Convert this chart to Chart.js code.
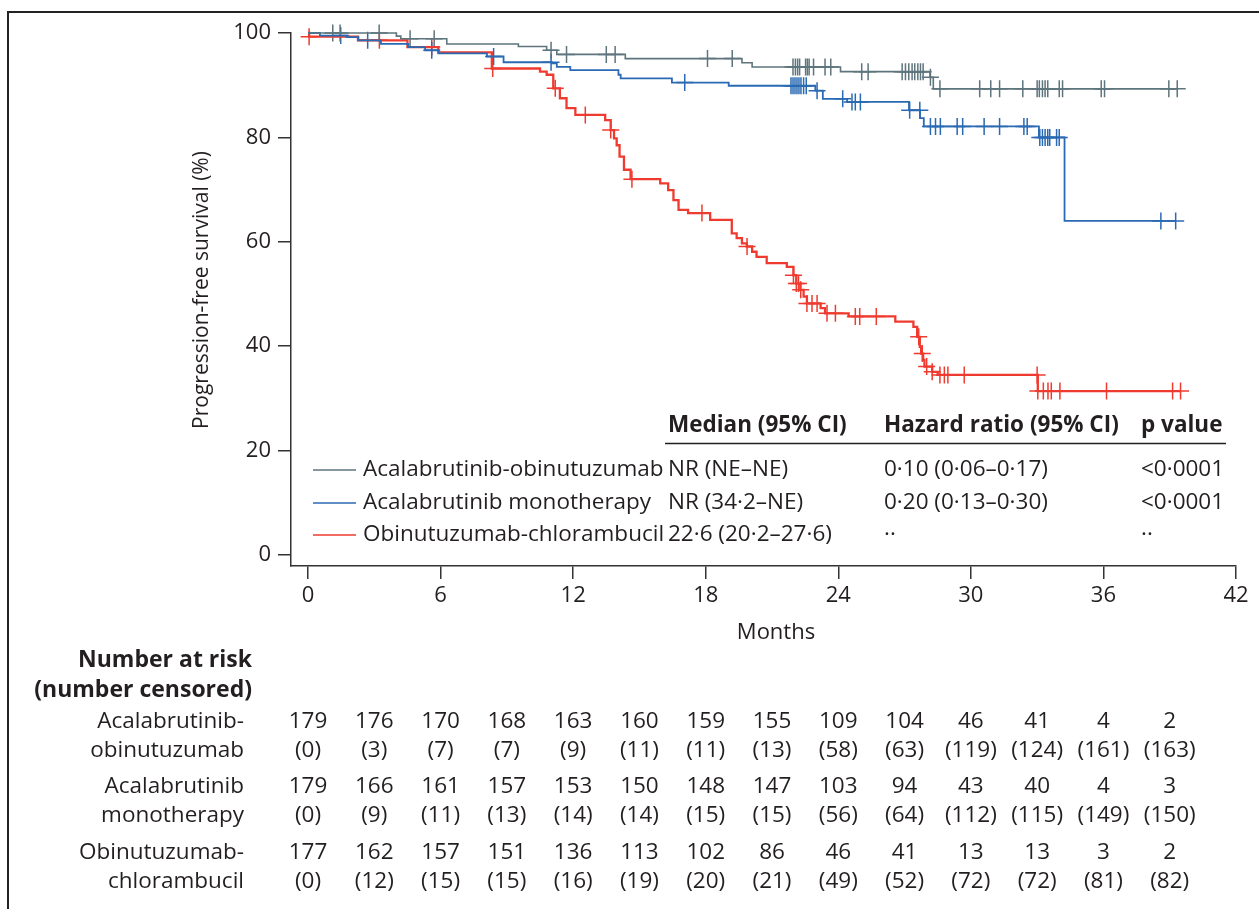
<!DOCTYPE html>
<html>
<head>
<meta charset="utf-8">
<script src="https://cdn.jsdelivr.net/npm/chart.js@4.4.1/dist/chart.umd.min.js"></script>
<style>
html, body { margin: 0; padding: 0; background: #fff; overflow: hidden; }
#wrap { position: relative; width: 1259px; height: 909px; }
#frame { position: absolute; left: 7px; top: 11px; width: 1400px; height: 1000px; border: 2px solid #222; }
#km { position: absolute; left: 0; top: 0; }
</style>
</head>
<body>
<div id="wrap">
  <div id="frame"></div>
  <canvas id="km" width="1259" height="909"></canvas>
</div>
<script>
// groups / table text
const groups = ['Acalabrutinib-obinutuzumab', 'Acalabrutinib monotherapy', 'Obinutuzumab-chlorambucil'];
const riskLabels = [['Acalabrutinib-', 'obinutuzumab'], ['Acalabrutinib', 'monotherapy'], ['Obinutuzumab-', 'chlorambucil']];
const tableHeads = ['Median (95% CI)', 'Hazard ratio (95% CI)', 'p value'];
const medians = ['NR (NE\u2013NE)', 'NR (34\u00b72\u2013NE)', '22\u00b76 (20\u00b72\u201327\u00b76)'];
const hazardRatios = ['0\u00b710 (0\u00b706\u20130\u00b717)', '0\u00b720 (0\u00b713\u20130\u00b730)', '\u00b7\u00b7'];
const pValues = ['<0\u00b70001', '<0\u00b70001', '\u00b7\u00b7'];

const xTicks = [0, 6, 12, 18, 24, 30, 36, 42];
const yTicks = [0, 20, 40, 60, 80, 100];

// number at risk (number censored), every 3 months
const riskTimes = [0, 3, 6, 9, 12, 15, 18, 21, 24, 27, 30, 33, 36, 39];
const atRiskAO = [179, 176, 170, 168, 163, 160, 159, 155, 109, 104, 46, 41, 4, 2];
const censoredAO = [0, 3, 7, 7, 9, 11, 11, 13, 58, 63, 119, 124, 161, 163];
const atRiskAM = [179, 166, 161, 157, 153, 150, 148, 147, 103, 94, 43, 40, 4, 3];
const censoredAM = [0, 9, 11, 13, 14, 14, 15, 15, 56, 64, 112, 115, 149, 150];
const atRiskOC = [177, 162, 157, 151, 136, 113, 102, 86, 46, 41, 13, 13, 3, 2];
const censoredOC = [0, 12, 15, 15, 16, 19, 20, 21, 49, 52, 72, 72, 81, 82];

// Kaplan-Meier steps (month, % progression-free)
const timesAO = [0, 4.0, 4.2, 6.28, 9.52, 10.8, 11.26, 14.36, 19.64, 20.1, 24.1, 28.15, 28.3, 39.34];
const survAO  = [100, 99.4, 98.9, 97.9, 97.4, 96.7, 95.9, 95.1, 94.3, 93.5, 92.6, 91.5, 89.3, 89.3];
const censorAO = [1.12, 1.45, 3.22, 4.62, 5.71, 11.0, 11.7, 13.5, 13.9, 18.08, 19.2, 21.95, 22.06, 22.16, 22.25,
  22.52, 22.6, 22.68, 22.88, 23.4, 23.66, 25.06, 25.35, 26.89, 27.04, 27.19, 27.34, 27.46, 27.6, 27.72, 27.84,
  28.17, 28.6, 30.4, 30.9, 31.3, 32.35, 33.0, 33.1, 33.24, 33.36, 33.48, 34.0, 34.15, 35.9, 36.05, 38.96, 39.34];

const timesAM = [0, 0.54, 1.75, 2.28, 3.3, 4.54, 5.3, 5.9, 8.1, 8.85, 11.04, 11.26, 11.87, 14.05, 14.15, 16.47,
  19.04, 22.96, 23.3, 24.4, 27.2, 27.7, 27.87, 33.08, 34.24, 39.27];
const survAM  = [100, 99.5, 99.2, 98.6, 97.9, 97.3, 96.7, 96.1, 95.5, 94.4, 94.2, 93.5, 92.9, 92.0, 91.3, 90.5,
  89.9, 88.95, 87.4, 86.8, 85.2, 83.7, 82.1, 80.0, 64.0, 64.0];
const censorAM = [1.48, 2.7, 5.6, 8.4, 11.0, 17.05, 21.86, 21.95, 22.04, 22.13, 22.22, 22.31, 22.43, 22.55, 23.04,
  24.2, 24.62, 24.77, 25.0, 27.23, 27.69, 28.17, 28.4, 28.62, 29.38, 29.63, 30.6, 31.3, 32.4, 32.55, 33.12, 33.24,
  33.36, 33.48, 33.57, 33.88, 34.0, 38.6, 39.27];

const timesOC = [0, 0.05, 2.26, 4.5, 5.9, 8.32, 10.5, 10.8, 11.1, 11.4, 11.7, 12.1, 13.45, 13.7, 13.85, 13.97, 14.1,
  14.3, 14.6, 15.94, 16.3, 16.54, 16.77, 17.2, 18.2, 19.18, 19.4, 19.64, 19.86, 20.1, 20.3, 20.76, 21.67, 21.97,
  22.1, 22.28, 22.43, 22.58, 23.2, 23.4, 24.47, 26.58, 27.4, 27.57, 27.69, 27.75, 27.84, 27.9, 28.25, 28.5, 33.03, 39.49];
const survOC  = [100, 99.3, 98.6, 97.3, 96.3, 93.2, 92.6, 92.0, 89.4, 87.5, 85.6, 84.3, 83.3, 81.4, 79.8, 78.5, 76.3,
  73.8, 72.0, 71.2, 69.9, 68.0, 66.1, 65.5, 64.2, 61.6, 60.7, 59.7, 59.1, 58.1, 57.1, 55.9, 55.2, 53.6,
  52.0, 50.8, 49.5, 48.2, 47.3, 46.3, 45.7, 44.7, 43.7, 41.8, 39.9, 38.6, 37.4, 36.1, 35.1, 34.5, 31.4, 31.4];
const censorOC = [0.05, 3.23, 5.6, 8.36, 11.19, 12.55, 13.7, 14.66, 17.83, 19.87, 21.97, 22.1, 22.2, 22.3, 22.58,
  22.81, 23.04, 23.49, 23.87, 24.77, 24.97, 25.72, 27.64, 27.8, 28.0, 28.25, 28.6, 28.8, 28.96, 29.7, 33.0, 33.03,
  33.28, 33.49, 33.64, 34.03, 36.14, 39.13, 39.49];

const colors = ['#5e757d', '#2a6ab3', '#ef3b2f'];
const lineWidths = [1.6, 1.8, 2.3];
const FONT = "'Open Sans', sans-serif";
const INK = '#231f20';

function survAt(times, surv, t) {
  let s = surv[0];
  for (let i = 0; i < times.length; i++) if (times[i] <= t) s = surv[i];
  return s;
}
const curve = (times, surv) => times.map((t, i) => ({x: t, y: surv[i]}));
const marks = (cens, times, surv) => cens.map(t => ({x: t, y: survAt(times, surv, t)}));

const curves = [curve(timesAO, survAO), curve(timesAM, survAM), curve(timesOC, survOC)];
const censors = [marks(censorAO, timesAO, survAO), marks(censorAM, timesAM, survAM), marks(censorOC, timesOC, survOC)];
const riskRows = [[atRiskAO, censoredAO], [atRiskAM, censoredAM], [atRiskOC, censoredOC]];

const datasets = [];
groups.forEach((g, i) => datasets.push({
  label: g, data: curves[i], borderColor: colors[i], borderWidth: lineWidths[i],
  stepped: true, pointRadius: 0, fill: false, clip: false
}));
groups.forEach((g, i) => datasets.push({
  label: g + ' censored', data: censors[i], showLine: false, pointStyle: 'cross',
  pointRadius: 8.5, pointBorderColor: colors[i], pointBorderWidth: 1.5, clip: false
}));

const extras = {
  id: 'extras',
  afterDraw(chart) {
    const ctx = chart.ctx, xs = chart.scales.x;
    ctx.save();
    ctx.fillStyle = INK;
    ctx.textBaseline = 'middle';

    // axis titles
    ctx.font = '22px ' + FONT;
    ctx.textAlign = 'center';
    ctx.fillText('Months', xs.getPixelForValue(21) + 4, 633);
    ctx.font = '21px ' + FONT;
    ctx.save();
    ctx.translate(202, 290);
    ctx.rotate(-Math.PI / 2);
    ctx.fillText('Progression-free survival (%)', 0, 0);
    ctx.restore();

    // legend table
    const cols = [668, 884, 1141];
    ctx.textAlign = 'left';
    ctx.font = 'bold 22.5px ' + FONT;
    tableHeads.forEach((h, j) => ctx.fillText(h, cols[j], 426));
    ctx.strokeStyle = INK;
    ctx.lineWidth = 1.3;
    ctx.beginPath(); ctx.moveTo(665, 443.5); ctx.lineTo(1226, 443.5); ctx.stroke();
    ctx.font = '22.5px ' + FONT;
    const rowsY = [470, 503, 535];
    groups.forEach((g, i) => {
      const y = rowsY[i];
      ctx.strokeStyle = chart.data.datasets[i].borderColor;
      ctx.lineWidth = 1.5;
      ctx.beginPath(); ctx.moveTo(313, y); ctx.lineTo(356, y); ctx.stroke();
      ctx.fillText(g, 363, y);
      ctx.fillText(medians[i], cols[0], y);
      ctx.fillText(hazardRatios[i], cols[1], y);
      ctx.fillText(pValues[i], cols[2], y);
    });

    // number at risk table
    ctx.textAlign = 'right';
    ctx.font = 'bold 23px ' + FONT;
    ctx.fillText('Number at risk', 252, 660);
    ctx.fillText('(number censored)', 252, 690);
    ctx.font = '22.5px ' + FONT;
    const groupY = [722, 787, 853];
    riskRows.forEach((rows, i) => {
      const y = groupY[i];
      ctx.textAlign = 'right';
      ctx.fillText(riskLabels[i][0], 244, y);
      ctx.fillText(riskLabels[i][1], 244, y + 29);
      ctx.textAlign = 'center';
      riskTimes.forEach((t, k) => {
        const px = xs.getPixelForValue(t);
        ctx.fillText(String(rows[0][k]), px, y);
        ctx.fillText('(' + rows[1][k] + ')', px, y + 29);
      });
    });
    ctx.restore();
  }
};

const tickFont = {family: FONT, size: 22};
new Chart(document.getElementById('km'), {
  type: 'line',
  data: {datasets},
  options: {
    responsive: false,
    animation: false,
    events: [],
    layout: {padding: {top: 33, right: 23, left: 0, bottom: 0}},
    plugins: {legend: {display: false}, tooltip: {enabled: false}},
    scales: {
      x: {
        type: 'linear', min: -0.77, max: 42,
        afterBuildTicks: s => { s.ticks = xTicks.map(v => ({value: v})); },
        afterFit: s => { s.height = 343; },
        grid: {drawOnChartArea: false, tickLength: 13, color: '#333', lineWidth: 1.5},
        border: {display: true, color: '#333', width: 1.5},
        ticks: {font: tickFont, color: INK, padding: 4, maxRotation: 0, autoSkip: false}
      },
      y: {
        type: 'linear', min: -2.1, max: 100,
        afterBuildTicks: s => { s.ticks = yTicks.map(v => ({value: v})); },
        afterFit: s => { s.width = 291; },
        grid: {drawOnChartArea: false, tickLength: 13, color: '#333', lineWidth: 1.5},
        border: {display: true, color: '#333', width: 1.5},
        ticks: {font: tickFont, color: INK, padding: 7}
      }
    }
  },
  plugins: [extras]
});
</script>
</body>
</html>
